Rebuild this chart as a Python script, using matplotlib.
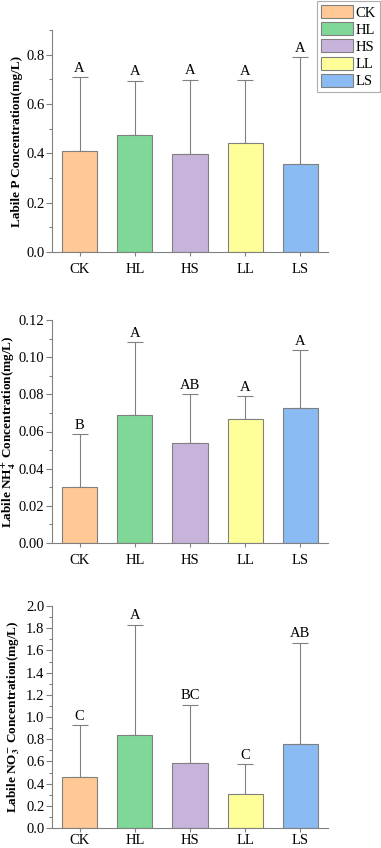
import matplotlib
matplotlib.use('Agg')
import matplotlib.pyplot as plt
from matplotlib.ticker import MultipleLocator, FormatStrFormatter
from matplotlib.patches import Patch

groups = ['CK', 'HL', 'HS', 'LL', 'LS']
colors = ['#FFC894', '#80D898', '#C8B4DA', '#FFFF99', '#8ABBF2']

p_mean = [0.41, 0.475, 0.397, 0.44, 0.355]
p_err = [0.30, 0.22, 0.302, 0.258, 0.435]
p_sig = ['A', 'A', 'A', 'A', 'A']

nh4_mean = [0.030, 0.069, 0.0537, 0.0665, 0.0727]
nh4_err = [0.0286, 0.0393, 0.0265, 0.0127, 0.031]
nh4_sig = ['B', 'A', 'AB', 'A', 'A']

no3_mean = [0.46, 0.837, 0.59, 0.304, 0.759]
no3_err = [0.47, 0.995, 0.522, 0.273, 0.911]
no3_sig = ['C', 'A', 'BC', 'C', 'AB']

plt.rcParams['font.family'] = ['Liberation Serif', 'DejaVu Serif']
plt.rcParams['mathtext.fontset'] = 'stix'

W, H = 381, 848
fig = plt.figure(figsize=(W / 100, H / 100), dpi=100)

# mean, err, letters, ymax, major, minor, fmt, ylabel, top px, bottom px, xtick pad, ylabel x
panels = [
    (p_mean, p_err, p_sig, 0.9, 0.2, 0.1, '%.1f', 'Labile P Concentration(mg/L)',
     30, 252, 5, -0.105),
    (nh4_mean, nh4_err, nh4_sig, 0.12, 0.02, 0.01, '%.2f',
     r'Labile NH$_{\mathbf{4}}^{\mathbf{+}}$ Concentration(mg/L)', 320, 543, 5, -0.124),
    (no3_mean, no3_err, no3_sig, 2.0, 0.2, 0.1, '%.1f',
     r'Labile NO$_{\mathbf{3}}^{\mathbf{-}}$ Concentration(mg/L)', 606, 828, 1.5, -0.11),
]

gray = '#808080'
x = list(range(len(groups)))
for mean, err, sig, ytop, major, minor, fmt, ylabel, top, bottom, xpad, labx in panels:
    ax = fig.add_axes([52 / W, 1 - bottom / H, 276 / W, (bottom - top) / H])
    ax.bar(x, mean, width=0.64, color=colors, edgecolor=gray, linewidth=0.8, zorder=2)
    ax.errorbar(x, mean, yerr=[[0] * len(x), err], fmt='none', ecolor=gray,
                elinewidth=0.8, capsize=6, capthick=0.8, zorder=1)
    for xi, m, e, s in zip(x, mean, err, sig):
        ax.text(xi, m + e + ytop * 0.01, s, ha='center', va='bottom', fontsize=10.5)
    ax.set_xlim(-0.5, 4.5)
    ax.set_ylim(0, ytop)
    ax.set_xticks(x)
    ax.set_xticklabels(groups, fontsize=10.5)
    ax.yaxis.set_major_locator(MultipleLocator(major))
    ax.yaxis.set_minor_locator(MultipleLocator(minor))
    ax.yaxis.set_major_formatter(FormatStrFormatter(fmt))
    ax.tick_params(axis='y', labelsize=10.5, direction='out', length=4, color=gray, width=0.8, pad=1.5)
    ax.tick_params(axis='y', which='minor', length=2.5, color=gray, width=0.8)
    ax.tick_params(axis='x', direction='out', length=3, color=gray, width=0.8, pad=xpad)
    for sp in ['top', 'right']:
        ax.spines[sp].set_visible(False)
    for sp in ['left', 'bottom']:
        ax.spines[sp].set_color(gray)
        ax.spines[sp].set_linewidth(0.8)
    ax.set_ylabel(ylabel, fontsize=9.5, fontweight='bold')
    ax.yaxis.set_label_coords(labx, 0.5)

handles = [Patch(facecolor=c, edgecolor=gray, linewidth=0.8) for c in colors]
leg = fig.legend(handles, groups, loc='upper right', bbox_to_anchor=(1.0, 1.0),
                 fontsize=10.5, frameon=True, fancybox=False, handlelength=2.2,
                 handleheight=1.0, handletextpad=0.2, labelspacing=0.18,
                 borderpad=0.25, borderaxespad=0.1)
leg.get_frame().set_edgecolor('#999999')
leg.get_frame().set_linewidth(0.8)

fig.savefig('out.png', dpi=100)
